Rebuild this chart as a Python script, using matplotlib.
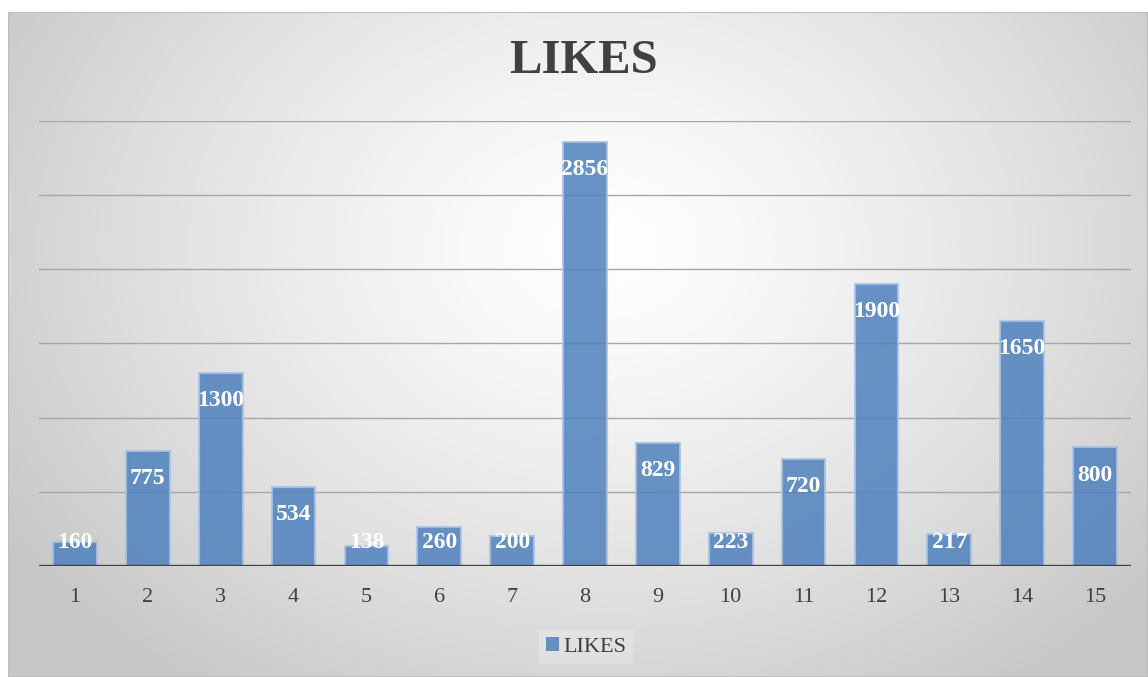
import numpy as np
import matplotlib
matplotlib.use("Agg")
import matplotlib.pyplot as plt
from matplotlib.patches import Rectangle

categories = [str(i) for i in range(1, 16)]
likes = [160, 775, 1300, 534, 138, 260, 200, 2856, 829, 223, 720, 1900, 217, 1650, 800]
series_name = "LIKES"
title = "LIKES"

W, H = 1148, 677
fig = plt.figure(figsize=(W / 100, H / 100), dpi=100)
fig.patch.set_facecolor("white")

# background radial gradient for the chart area
bg = fig.add_axes([8 / W, 0, 1 - 8 / W, 1 - 12 / H])
bg.set_axis_off()
ny, nx = 400, 700
yy, xx = np.mgrid[0:ny, 0:nx]
cx, cy = 0.52 * nx, 0.35 * ny
r = np.sqrt(((xx - cx) / nx) ** 2 + ((yy - cy) / ny * 0.75) ** 2)
r = np.clip(r / 0.62, 0, 1)
val = 1.0 - 0.22 * r ** 1.3
img = np.dstack([val, val, val])
bg.imshow(img, aspect="auto", extent=[0, 1, 0, 1], interpolation="bilinear")
bg.set_xlim(0, 1)
bg.set_ylim(0, 1)
bg.add_patch(Rectangle((0, 0), 1, 1, transform=bg.transAxes, fill=False,
                       edgecolor="#bdbdbd", linewidth=1.5))

ax = fig.add_axes([38.6 / W, 1 - 566 / H, (1131.4 - 38.6) / W, (566 - 120.5) / H])
ax.patch.set_alpha(0)
x = np.arange(len(categories))
ax.set_xlim(-0.5, len(categories) - 0.5)
ax.set_ylim(0, 3000)
for gy in range(500, 3001, 500):
    ax.axhline(gy, color="#a6a6a6", linewidth=1.0, zorder=1)
ax.bar(x, likes, width=0.6, color="#4f81bd", alpha=0.85, edgecolor="#a9c3e2",
       linewidth=1.5, zorder=2)
ax.axhline(0, color="#404040", linewidth=2.4, zorder=3)

for xi, v in zip(x, likes):
    ylab = max(v - 188, 160)
    ax.text(xi, ylab, str(v), ha="center", va="center", color="white",
            fontsize=17, fontweight="bold", family="Liberation Serif", zorder=4)

ax.set_yticks([])
ax.set_xticks(x)
ax.set_xticklabels(categories, family="Liberation Serif", fontsize=16, color="#404040")
ax.tick_params(axis="x", length=0, pad=16)
for s in ax.spines.values():
    s.set_visible(False)

fig.text(584 / W, 1 - 61 / H, title, ha="center", va="center", fontsize=35,
         fontweight="bold", family="Liberation Serif", color="#404040")

handle = Rectangle((0, 0), 1, 1, facecolor="#4f81bd", alpha=0.85)
lg = fig.legend([handle], [series_name], loc="center", bbox_to_anchor=(586 / W, 1 - 647 / H),
                frameon=True, prop={"family": "Liberation Serif", "size": 16},
                handlelength=0.6, handleheight=0.6, handletextpad=0.2,
                borderpad=0.3, fancybox=False)
lg.get_frame().set_facecolor("#f4f4f4")
lg.get_frame().set_alpha(0.3)
lg.get_frame().set_edgecolor("none")
for t in lg.get_texts():
    t.set_color("#404040")

fig.savefig("out.png", dpi=100)
